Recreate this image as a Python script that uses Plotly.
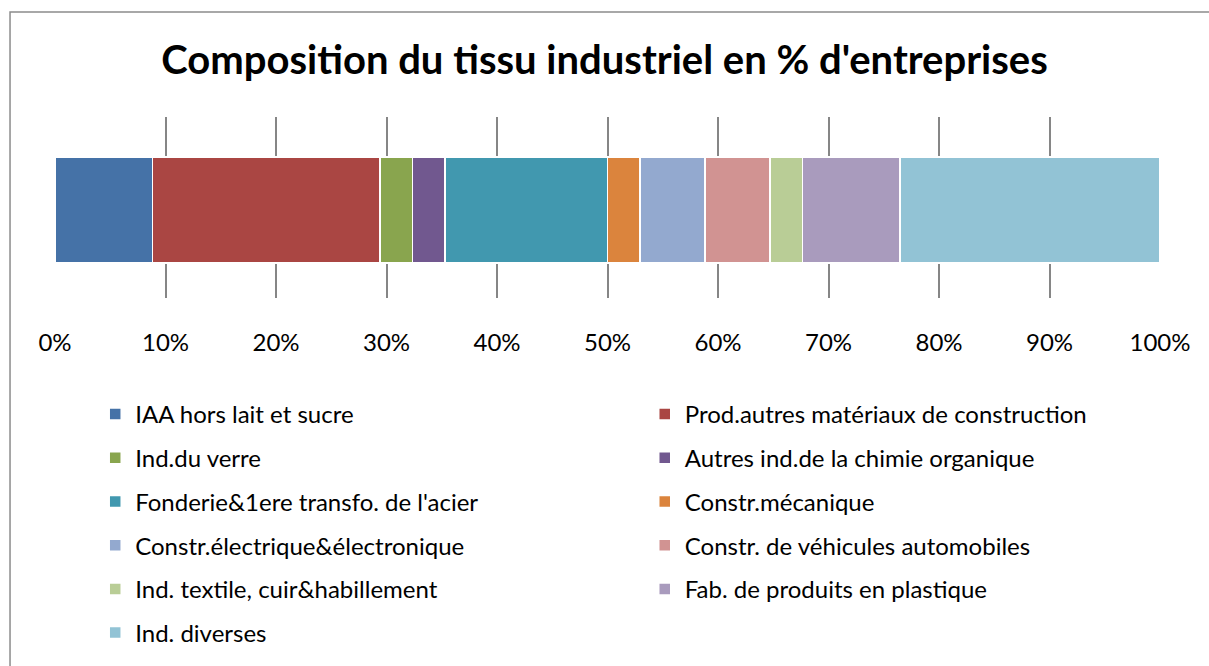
import plotly.graph_objects as go

categories = [
    "IAA hors lait et sucre",
    "Prod.autres matériaux de construction",
    "Ind.du verre",
    "Autres ind.de la chimie organique",
    "Fonderie&1ere transfo. de l'acier",
    "Constr.mécanique",
    "Constr.électrique&électronique",
    "Constr. de véhicules automobiles",
    "Ind. textile, cuir&habillement",
    "Fab. de produits en plastique",
    "Ind. diverses",
]
# number of firms per sector (shares)
counts = [3, 7, 1, 1, 5, 1, 2, 2, 1, 3, 8]
colors = ["#4572A7", "#AA4643", "#89A54E", "#71588F", "#4198AF", "#DB843D",
          "#93A9CF", "#D19392", "#B9CD96", "#A99BBD", "#92C3D5"]
tick_vals = [0, 10, 20, 30, 40, 50, 60, 70, 80, 90, 100]
tick_text = ["0%", "10%", "20%", "30%", "40%", "50%", "60%", "70%", "80%", "90%", "100%"]
row_label = [""]

FONT = "Lato"

fig = go.Figure()
for i, (name, val, col) in enumerate(zip(categories, counts, colors)):
    fig.add_trace(go.Bar(
        name=name, x=[val], y=row_label, orientation="h",
        marker=dict(color=col, line=dict(color="white", width=1.5)),
        legendgroup=name,
        legend="legend" if i % 2 == 0 else "legend2",
        hovertemplate="%{x:.1f}%<extra>" + name + "</extra>",
    ))

legend_common = dict(
    orientation="v", traceorder="grouped", tracegroupgap=9.5,
    font=dict(family=FONT, size=24, color="#000000"),
    bgcolor="rgba(0,0,0,0)", xanchor="left", yanchor="top", yref="container",
    itemclick=False, itemdoubleclick=False,
)

fig.update_layout(
    width=1209, height=666,
    barmode="stack", barnorm="percent", bargap=0.414,
    paper_bgcolor="white", plot_bgcolor="white",
    margin=dict(l=55, r=49, t=117, b=368),
    font=dict(family=FONT, color="#000000"),
    title=dict(text="<b>Composition du tissu industriel en % d'entreprises</b>",
               x=0.5, xanchor="center", y=0.91, yanchor="middle",
               font=dict(family=FONT, size=40, color="#000000")),
    xaxis=dict(range=[0, 100], tickvals=tick_vals, ticktext=tick_text,
               showgrid=True, gridcolor="#868686", gridwidth=1.5,
               zeroline=False, showline=False, ticks="",
               ticklabelstandoff=28,
               tickfont=dict(family=FONT, size=24, color="#000000")),
    yaxis=dict(showticklabels=False, showgrid=False, zeroline=False,
               range=[-0.486, 0.514]),
    legend=dict(x=0.0364, y=0.4114, **legend_common),
    legend2=dict(x=0.5337, y=0.4114, **legend_common),
    showlegend=True,
    shapes=[dict(type="rect", xref="paper", yref="paper",
                 x0=-0.0407, x1=1.1, y0=-2.5, y1=1.58,
                 line=dict(color="#8C8C8C", width=1.5), fillcolor="rgba(0,0,0,0)",
                 layer="below")],
)

fig.write_html("out.html", config={"displayModeBar": False},
               post_script="document.body.style.margin='0';")
